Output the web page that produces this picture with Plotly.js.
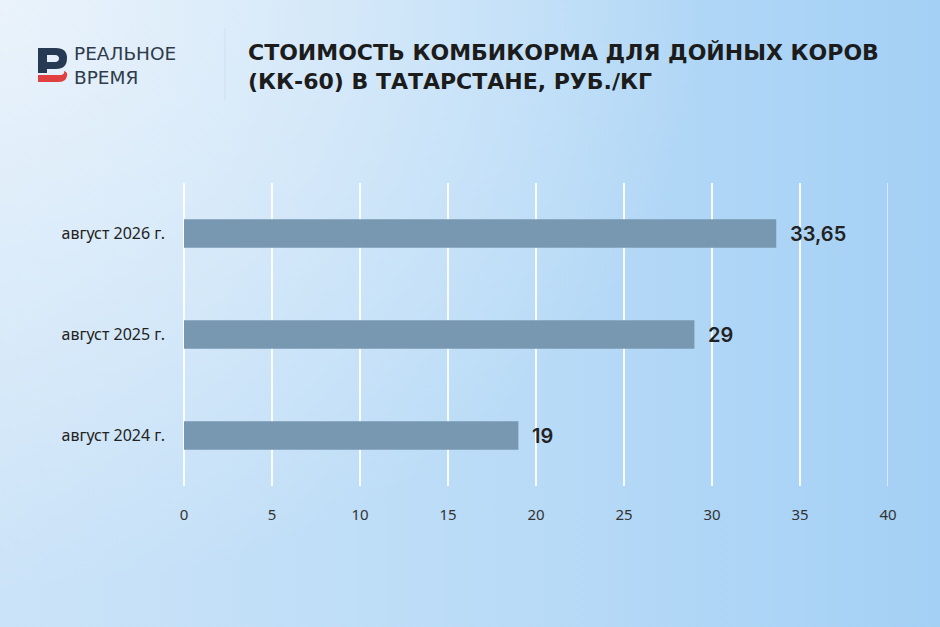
<!DOCTYPE html>
<html>
<head>
<meta charset="utf-8">
<script src="https://cdn.plot.ly/plotly-3.0.1.min.js"></script>
<style>
  html, body { margin:0; padding:0; }
  body {
    width:940px; height:627px; overflow:hidden;
    background:
      radial-gradient(ellipse 75% 95% at 0% 0%, rgba(244,248,252,0.75) 0%, rgba(244,248,252,0.35) 55%, rgba(255,255,255,0) 100%),
      linear-gradient(to right, #cbe3f8 0%, #b9dbf7 55%, #a4d0f5 100%);
  }
  #chart { width:940px; height:627px; }
</style>
</head>
<body>
<div id="chart"></div>
<script>
// ---- data ----
const categories = ['август 2024 г.', 'август 2025 г.', 'август 2026 г.'];
const values = [19, 29, 33.65];
const valueLabels = ['19', '29', '33,65'];
const xTicks = [0, 5, 10, 15, 20, 25, 30, 35, 40];
const titleLines = ['СТОИМОСТЬ КОМБИКОРМА ДЛЯ ДОЙНЫХ КОРОВ', '(КК-60) В ТАТАРСТАНЕ, РУБ./КГ'];
const logoLines = ['РЕАЛЬНОЕ', 'ВРЕМЯ'];

// ---- geometry helpers (plot area in px) ----
const W = 940, H = 627;
const L = 184, R = 888, T = 183, B = 486;
const px = x => (x - L) / (R - L);
const py = y => (B - y) / (B - T);
function pathPx(cmds) {
  return cmds.map(c => {
    const l = c[0]; const nums = c.slice(1);
    const out = [];
    for (let i = 0; i < nums.length; i += 2) out.push(px(nums[i]).toFixed(5) + ',' + py(nums[i+1]).toFixed(5));
    return l + out.join(' ');
  }).join(' ');
}

const trace = {
  type: 'bar',
  orientation: 'h',
  x: values,
  y: categories,
  marker: { color: '#7897b0' },
  hoverinfo: 'skip'
};

const annotations = [];
values.forEach((v, i) => {
  annotations.push({
    x: v, y: categories[i], xref: 'x', yref: 'y',
    text: valueLabels[i], showarrow: false,
    xanchor: 'left', yanchor: 'middle', xshift: 12,
    font: { family: 'Inter, sans-serif', size: 20, color: '#222222', weight: 600 }
  });
});
annotations.push({
  xref: 'paper', yref: 'paper', x: px(246), y: py(38),
  xanchor: 'left', yanchor: 'top', align: 'left', showarrow: false,
  text: titleLines.join('<br>'),
  font: { family: 'DejaVu Sans, sans-serif', size: 22, color: '#1c1c1c', weight: 700 }
});
annotations.push({
  xref: 'paper', yref: 'paper', x: px(72), y: py(65.5),
  xanchor: 'left', yanchor: 'middle', align: 'left', showarrow: false,
  text: logoLines.join('<br>'),
  font: { family: 'DejaVu Sans, sans-serif', size: 18.5, color: '#2f3b4a', weight: 400 }
});

const shapes = [
  // separator
  { type: 'line', xref: 'paper', yref: 'paper', x0: px(225), x1: px(225), y0: py(28), y1: py(100),
    line: { color: 'rgba(210,222,235,0.9)', width: 1 } },
  // logo navy part
  { type: 'path', xref: 'paper', yref: 'paper', fillcolor: '#263a54', line: { width: 0 },
    path: pathPx([['M',38,48],['L',56,48],['Q',67,48, 67,58],['Q',67,69, 56,69],['L',47,69],['L',47,73],['L',38,73],['Z']]) + ' ' +
          pathPx([['M',47,55],['L',47,62],['L',55,62],['Q',59,62, 59,58.5],['Q',59,55, 55,55],['Z']]) },
  // logo red part
  { type: 'path', xref: 'paper', yref: 'paper', fillcolor: '#e0403f', line: { width: 0 },
    path: pathPx([['M',38,75],['L',61,75],['Q',65,74, 64,71],['Q',68,72, 67,76],['Q',66,82, 58,82],['L',38,82],['Z']]) }
];
// grid line at the right range edge (Plotly does not draw it)
shapes.push({ type: 'line', xref: 'x', yref: 'paper', x0: xTicks[xTicks.length - 1], x1: xTicks[xTicks.length - 1],
  y0: 0, y1: 1, line: { color: 'rgba(255,255,255,0.9)', width: 1.2 } });

const layout = {
  width: W, height: H,
  margin: { l: L, r: W - R, t: T, b: H - B, pad: 0 },
  paper_bgcolor: 'rgba(0,0,0,0)',
  plot_bgcolor: 'rgba(0,0,0,0)',
  bargap: 0.72,
  showlegend: false,
  xaxis: {
    range: [0, 40], tickvals: xTicks, ticktext: xTicks.map(String),
    showgrid: true, gridcolor: 'rgba(255,255,255,0.9)', gridwidth: 1.2,
    zeroline: true, zerolinecolor: 'rgba(255,255,255,0.9)', zerolinewidth: 1.2,
    showline: false, ticks: '', ticklabelstandoff: 18,
    tickfont: { family: 'Noto Sans, sans-serif', size: 15, color: '#333333' },
    fixedrange: true
  },
  yaxis: {
    type: 'category', categoryorder: 'array', categoryarray: categories,
    showgrid: false, zeroline: false, showline: false, ticks: '',
    ticklabelstandoff: 18,
    tickfont: { family: 'Noto Sans, sans-serif', size: 16, color: '#222222' },
    fixedrange: true
  },
  annotations: annotations,
  shapes: shapes
};

Plotly.newPlot('chart', [trace], layout, { displayModeBar: false, staticPlot: true });
</script>
</body>
</html>
